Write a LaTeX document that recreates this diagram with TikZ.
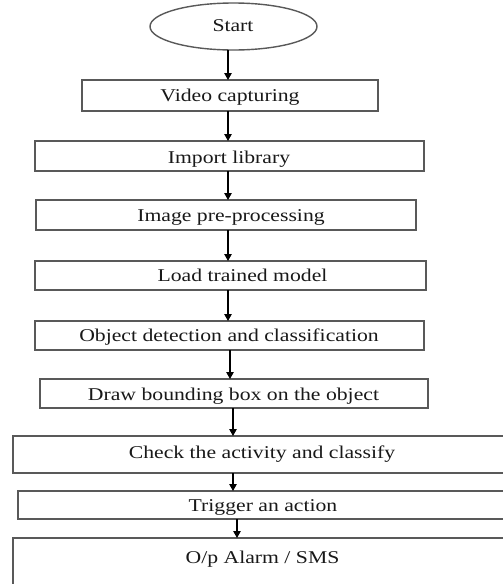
\documentclass[tikz,border=0pt]{standalone}
\usepackage{fontspec}
\setmainfont{Liberation Serif}
\usetikzlibrary{shapes.geometric,arrows.meta}
\begin{document}
\begin{tikzpicture}[x=1pt,y=-1pt,
  frame/.style={draw=black!65, line width=1.4pt, inner sep=0pt, outer sep=0pt, fill=white},
  stepbox/.style={frame, rectangle},
  terminal/.style={frame, ellipse},
  lbl/.style={anchor=base, inner sep=0pt, text=black!90, yscale=0.83,
    font=\fontsize{21.7}{24}\selectfont},
  arr/.style={draw=black, line width=1.1pt, -{Triangle[length=7pt,width=7.5pt]}}]
\useasboundingbox (0,0) rectangle (503,584);
\clip (0,0) rectangle (503,584);

% shapes
\node[terminal, minimum width=167pt, minimum height=47pt] (s0) at (233.5,26.5) {};
\node[stepbox, minimum width=296pt, minimum height=31pt] (b1) at (230,95.5) {};
\node[stepbox, minimum width=389pt, minimum height=30pt] (b2) at (229.5,156) {};
\node[stepbox, minimum width=380pt, minimum height=30pt] (b3) at (226,215) {};
\node[stepbox, minimum width=391pt, minimum height=29pt] (b4) at (230.5,275.5) {};
\node[stepbox, minimum width=389pt, minimum height=29pt] (b5) at (229.5,335.5) {};
\node[stepbox, minimum width=388pt, minimum height=29pt] (b6) at (234,393.5) {};
\node[stepbox, minimum width=507pt, minimum height=37pt] (b7) at (266.5,454.5) {};
\node[stepbox, minimum width=502pt, minimum height=28pt] (b8) at (269,505) {};
\node[stepbox, minimum width=507pt, minimum height=62pt] (b9) at (266.5,569) {};

% labels
\node[lbl] (t0) at (233,31.5) {Start};
\node[lbl] (t1) at (230,101.5) {Video capturing};
\node[lbl] (t2) at (229,163) {Import library};
\node[lbl] (t3) at (231,221.5) {Image pre-processing};
\node[lbl] (t4) at (242.5,281.5) {Load trained model};
\node[lbl] (t5) at (229,341.5) {Object detection and classification};
\node[lbl] (t6) at (233.5,400.5) {Draw bounding box on the object};
\node[lbl] (t7) at (262,458) {Check the activity and classify};
\node[lbl] (t8) at (263,511.5) {Trigger an action};
\node[lbl] (t9) at (262.5,563) {O/p Alarm / SMS};

% vertical lines the connectors follow
\coordinate (ax1) at (228,0);
\coordinate (ax2) at (230,0);
\coordinate (ax3) at (233,0);
\coordinate (ax4) at (237,0);

% connectors
\draw[arr] (s0.south -| ax1) -- (b1.north -| ax1);
\draw[arr] (b1.south -| ax1) -- (b2.north -| ax1);
\draw[arr] (b2.south -| ax1) -- (b3.north -| ax1);
\draw[arr] (b3.south -| ax1) -- (b4.north -| ax1);
\draw[arr] (b4.south -| ax1) -- (b5.north -| ax1);
\draw[arr] (b5.south -| ax2) -- (b6.north -| ax2);
\draw[arr] (b6.south -| ax3) -- (b7.north -| ax3);
\draw[arr] (b7.south -| ax3) -- (b8.north -| ax3);
\draw[arr] (b8.south -| ax4) -- (b9.north -| ax4);
\end{tikzpicture}
\end{document}
